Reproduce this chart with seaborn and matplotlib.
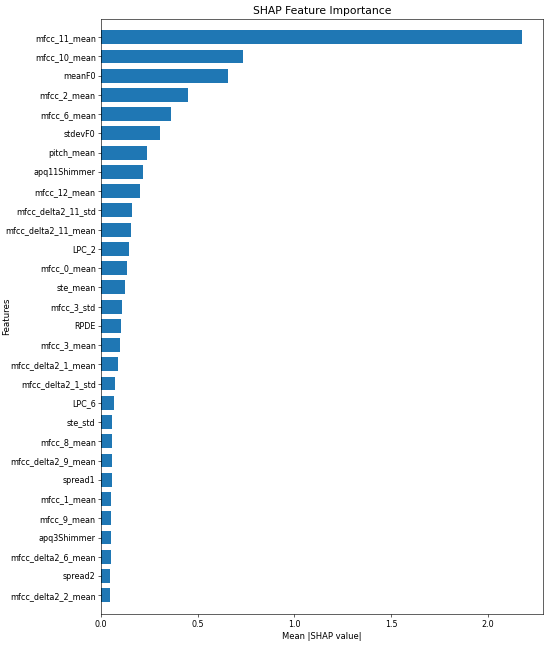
import matplotlib
matplotlib.use("Agg")
import matplotlib.pyplot as plt
import seaborn as sns
import pandas as pd

features = [
    "mfcc_11_mean", "mfcc_10_mean", "meanF0", "mfcc_2_mean", "mfcc_6_mean",
    "stdevF0", "pitch_mean", "apq11Shimmer", "mfcc_12_mean", "mfcc_delta2_11_std",
    "mfcc_delta2_11_mean", "LPC_2", "mfcc_0_mean", "ste_mean", "mfcc_3_std",
    "RPDE", "mfcc_3_mean", "mfcc_delta2_1_mean", "mfcc_delta2_1_std", "LPC_6",
    "ste_std", "mfcc_8_mean", "mfcc_delta2_9_mean", "spread1", "mfcc_1_mean",
    "mfcc_9_mean", "apq3Shimmer", "mfcc_delta2_6_mean", "spread2", "mfcc_delta2_2_mean",
]
shap_values = [
    2.175, 0.735, 0.656, 0.452, 0.361,
    0.303, 0.240, 0.218, 0.204, 0.161,
    0.154, 0.144, 0.134, 0.123, 0.111,
    0.103, 0.096, 0.086, 0.074, 0.065,
    0.058, 0.057, 0.055, 0.055, 0.054,
    0.053, 0.050, 0.050, 0.049, 0.048,
]

df = pd.DataFrame({"feature": features, "shap": shap_values})

fig, ax = plt.subplots(figsize=(10, 653 / 55), dpi=55)
sns.barplot(data=df, x="shap", y="feature", orient="h", color="#1f77b4",
            saturation=1, width=0.72, ax=ax)

ax.set_ylim(30.0, -0.95)
ax.tick_params(labelsize=10.4)
ax.set_title("SHAP Feature Importance", fontsize=14)
ax.set_xlabel("Mean |SHAP value|", fontsize=11)
ax.set_ylabel("Features", fontsize=11.5)
ax.yaxis.set_label_coords(-0.203, 0.5)

fig.subplots_adjust(left=0.1836, right=0.987, top=0.971, bottom=0.059)
fig.savefig("out.png", dpi=55)
